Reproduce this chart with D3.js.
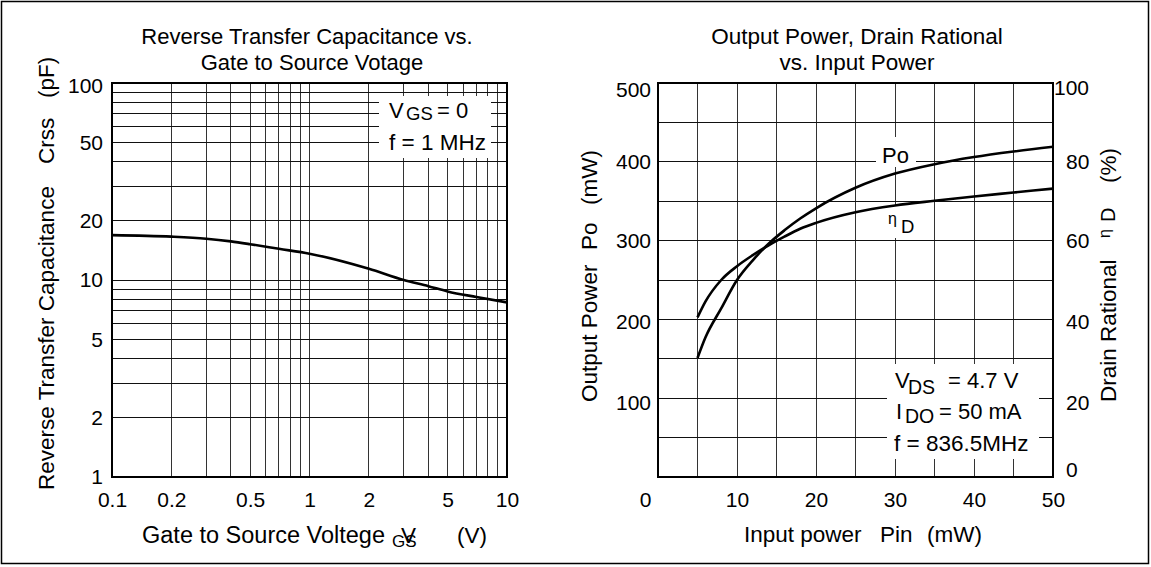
<!DOCTYPE html>
<html>
<head>
<meta charset="utf-8">
<script src="https://cdn.jsdelivr.net/npm/d3@7"></script>
<style>
    body { margin: 0; background: #fff; }
    svg text { font-family: "Liberation Sans", Arial, sans-serif; fill: #000; }
</style>
</head>
<body>
<div id="chart"></div>
<script>
// left chart: Crss vs VGS
const vgsValues = [0.1, 0.2, 0.3, 0.4, 0.5, 0.7, 1, 2, 3, 4, 5, 7, 10];
const crssValues = [16.9, 16.6, 16.2, 15.7, 15.2, 14.4, 13.6, 11.4, 10.0, 9.3, 8.75, 8.2, 7.7];
const vgsTicks = [0.1, 0.2, 0.5, 1, 2, 5, 10];
const crssTicks = [1, 2, 5, 10, 20, 50, 100];

// right chart: Po and drain efficiency vs Pin
const pinValues = [5, 6, 8, 10, 12, 14, 16, 18, 20, 25, 30, 35, 40, 45, 50];
const poValues = [151, 177, 214, 250, 275, 296, 313, 328, 341, 367, 385, 397, 406, 413, 419];
const etaValues = [40.5, 44.5, 50, 53.5, 56.3, 58.8, 61, 63, 64.5, 67.2, 68.9, 70.1, 71.2, 72.2, 73.2];
const pinTicks = [0, 10, 20, 30, 40, 50];
const poTicks = [100, 200, 300, 400, 500];
const etaTicks = [0, 20, 40, 60, 80, 100];

const width = 1151,
    height = 567;

const svg = d3.select("#chart")
    .append("svg")
    .attr("width", width)
    .attr("height", height);

// outer frame
svg.append("rect")
    .attr("x", 1.5).attr("y", 1.5)
    .attr("width", width - 4).attr("height", height - 5)
    .attr("fill", "none").attr("stroke", "#000").attr("stroke-width", 1.5);

function addText(x, y, str, size, anchor) {
    return svg.append("text")
        .attr("x", x).attr("y", y)
        .attr("font-size", size)
        .attr("text-anchor", anchor || "start")
        .text(str);
}

function addVText(x, y, str, size) {
    return svg.append("text")
        .attr("transform", `translate(${x},${y}) rotate(-90)`)
        .attr("font-size", size)
        .text(str);
}

function whiteBox(x0, y0, x1, y1) {
    svg.append("rect")
        .attr("x", x0).attr("y", y0)
        .attr("width", x1 - x0).attr("height", y1 - y0)
        .attr("fill", "#fff");
}

function drawGrid(xScale, yScale, xVals, yVals) {
    const [x0, x1] = xScale.range();
    const [y1, y0] = yScale.range();
    const g = svg.append("g").attr("shape-rendering", "crispEdges");
    g.selectAll(".vline").data(xVals).enter().append("line")
        .attr("x1", d => xScale(d)).attr("x2", d => xScale(d))
        .attr("y1", y0).attr("y2", y1)
        .attr("stroke", "#333").attr("stroke-width", 1);
    g.selectAll(".hline").data(yVals).enter().append("line")
        .attr("x1", x0).attr("x2", x1)
        .attr("y1", d => yScale(d)).attr("y2", d => yScale(d))
        .attr("stroke", "#111").attr("stroke-width", 1);
}

function drawFrame(xScale, yScale) {
    const [x0, x1] = xScale.range();
    const [y1, y0] = yScale.range();
    svg.append("rect")
        .attr("x", x0).attr("y", y0)
        .attr("width", x1 - x0).attr("height", y1 - y0)
        .attr("fill", "none").attr("stroke", "#000").attr("stroke-width", 2);
}

function styleAxis(g, size) {
    g.attr("font-size", size).attr("font-family", null);
    g.select(".domain").remove();
}

// ---------------- left chart ----------------
const xCap = d3.scaleLog().domain([0.1, 10]).range([112, 507]);
const yCap = d3.scaleLog().domain([1, 100]).range([477, 83]);

drawGrid(xCap, yCap, xCap.ticks(), yCap.ticks());

// condition box
whiteBox(379, 96, 491, 158);

const capLine = d3.line()
    .x((d, i) => xCap(vgsValues[i]))
    .y(d => yCap(d))
    .curve(d3.curveMonotoneX);

svg.append("path")
    .datum(crssValues)
    .attr("d", capLine)
    .attr("fill", "none")
    .attr("stroke", "#000")
    .attr("stroke-width", 2.6);

drawFrame(xCap, yCap);

svg.append("g")
    .attr("transform", "translate(0,477)")
    .call(d3.axisBottom(xCap).tickValues(vgsTicks).tickFormat(d3.format("~g")).tickSize(0).tickPadding(15))
    .call(g => styleAxis(g, 21));

svg.append("g")
    .attr("transform", "translate(112,0)")
    .call(d3.axisLeft(yCap).tickValues(crssTicks).tickFormat(d3.format("~g")).tickSize(0).tickPadding(9))
    .call(g => styleAxis(g, 21))
    .selectAll(".tick text")
    .attr("dy", d => d === 100 ? "0.45em" : "0.32em");

// titles and labels
addText(307, 44, "Reverse Transfer Capacitance vs.", 22, "middle");
addText(312, 69.5, "Gate to Source Votage", 22, "middle");

addVText(54, 490, "Reverse Transfer Capacitance", 22.5);
addVText(54, 164, "Crss", 22.5);
addVText(54, 98, "(pF)", 22.5);

addText(142, 543, "Gate to Source Voltege", 23.5);
// subscript and symbol overlap as in the original print
const vgsLabel = addText(392, 547, "GS", 17);
vgsLabel.append("tspan").attr("x", 401).attr("dy", -4).attr("font-size", 22.5).text("V");
addText(457, 543, "(V)", 22.5);

const vgsNote = addText(389, 118, "V", 22);
vgsNote.append("tspan").attr("x", 406).attr("dy", 2).attr("font-size", 18.5).text("GS");
vgsNote.append("tspan").attr("x", 437).attr("dy", -2).text("= 0");
addText(389, 150, "f = 1 MHz", 22.5);

// ---------------- right chart ----------------
const xPin = d3.scaleLinear().domain([0, 50]).range([658, 1053]);
const yPo = d3.scaleLinear().domain([0, 500]).range([477, 83]);
const yEta = d3.scaleLinear().domain([0, 100]).range([477, 83]);

drawGrid(xPin, yPo, xPin.ticks(10), yPo.ticks(10));

// label backgrounds
whiteBox(887, 364, 1039, 459);
whiteBox(876, 137, 916, 167);
whiteBox(884, 206, 922, 238);

const poLine = d3.line()
    .x((d, i) => xPin(pinValues[i]))
    .y(d => yPo(d))
    .curve(d3.curveMonotoneX);

const etaLine = d3.line()
    .x((d, i) => xPin(pinValues[i]))
    .y(d => yEta(d))
    .curve(d3.curveMonotoneX);

svg.append("path")
    .datum(poValues)
    .attr("d", poLine)
    .attr("fill", "none").attr("stroke", "#000").attr("stroke-width", 2.6);

svg.append("path")
    .datum(etaValues)
    .attr("d", etaLine)
    .attr("fill", "none").attr("stroke", "#000").attr("stroke-width", 2.6);

drawFrame(xPin, yPo);

svg.append("g")
    .attr("transform", "translate(0,477)")
    .call(d3.axisBottom(xPin).tickValues(pinTicks).tickSize(0).tickPadding(15))
    .call(g => styleAxis(g, 21))
    .selectAll(".tick text")
    .attr("dx", d => d === 0 ? -13 : 0);

const poShift = { 100: 5, 200: 2, 500: 7 };
svg.append("g")
    .attr("transform", "translate(658,0)")
    .call(d3.axisLeft(yPo).tickValues(poTicks).tickSize(0).tickPadding(7))
    .call(g => styleAxis(g, 21))
    .selectAll(".tick text")
    .attr("transform", d => `translate(0,${poShift[d] || 0})`);

const etaShift = { 0: -7, 20: 5, 40: 2, 100: 5 };
svg.append("g")
    .attr("transform", "translate(1053,0)")
    .call(d3.axisRight(yEta).tickValues(etaTicks).tickSize(0).tickPadding(13))
    .call(g => styleAxis(g, 21))
    .selectAll(".tick text")
    .attr("transform", d => `translate(${d === 100 ? -12 : 0},${etaShift[d] || 0})`);

addText(857, 44, "Output Power, Drain Rational", 22.5, "middle");
addText(857, 69.5, "vs. Input Power", 22.5, "middle");

addVText(597, 402, "Output Power", 22.5);
addVText(597, 250, "Po", 22.5);
addVText(597, 205, "(mW)", 22.5);

addVText(1116, 402, "Drain Rational", 22.5);
addVText(1110, 238, "η", 16);
addVText(1115, 222, "D", 20);
addVText(1116, 183, "(%)", 22.5);

addText(744, 542, "Input power", 22.5);
addText(880, 542, "Pin", 22.5);
addText(927, 542, "(mW)", 22.5);

// curve labels
addText(882, 163, "Po", 22);
addText(888, 224, "η", 16);
addText(901, 233, "D", 18.5);

// condition box
const vdsNote = addText(895, 388, "V", 22);
vdsNote.append("tspan").attr("x", 908).attr("dy", 6).attr("font-size", 19.5).text("DS");
vdsNote.append("tspan").attr("x", 948).attr("dy", -6).text("= 4.7 V");
const idoNote = addText(896, 419, "I", 22);
idoNote.append("tspan").attr("x", 905).attr("dy", 4).attr("font-size", 19.5).text("DO");
idoNote.append("tspan").attr("x", 939).attr("dy", -4).text("= 50 mA");
addText(894, 451, "f = 836.5MHz", 22.5);
</script>
</body>
</html>
